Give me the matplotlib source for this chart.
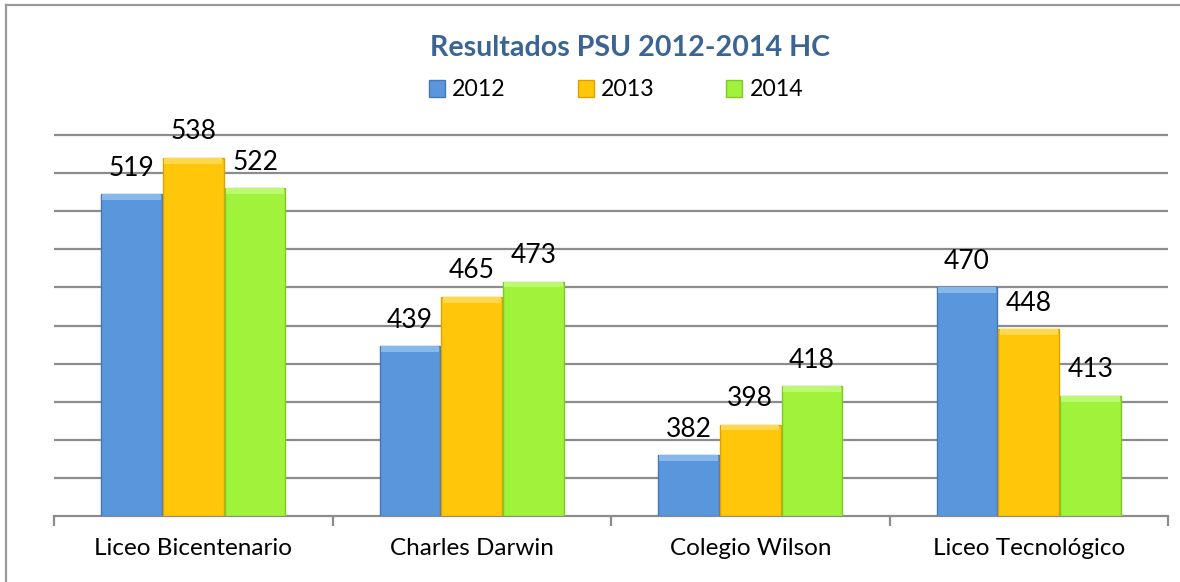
import matplotlib
matplotlib.use("Agg")
import matplotlib.pyplot as plt
from matplotlib.patches import Patch
from matplotlib.lines import Line2D
import numpy as np

categories = ["Liceo Bicentenario", "Charles Darwin", "Colegio Wilson", "Liceo Tecnológico"]
years = ["2012", "2013", "2014"]
v2012 = [519, 439, 382, 470]
v2013 = [538, 465, 398, 448]
v2014 = [522, 473, 418, 413]
series = [v2012, v2013, v2014]

face = ["#5A96DC", "#FFC60A", "#A0F23A"]
edge = ["#4677B5", "#D9A300", "#7FC72A"]
light = ["#86B8EC", "#FFD850", "#BCF870"]

plt.rcParams['font.family'] = ['Lato', 'DejaVu Sans']

fig = plt.figure(figsize=(11.8, 5.82), dpi=100)
ax_bottom_px = 516
ymin, ymax = 350, 552
px_per_unit = 381 / 200
top_px = ax_bottom_px - (ymax - ymin) * px_per_unit
ax = fig.add_axes([54 / 1180, (582 - ax_bottom_px) / 582,
                   (1168 - 54) / 1180, (ax_bottom_px - top_px) / 582])

x = np.arange(len(categories))
width = 0.218
offsets = [-0.222, 0.0, 0.222]
strip = 3.0
for i, vals in enumerate(series):
    xs = x + offsets[i]
    vals = np.array(vals)
    ax.bar(xs, vals - ymin, bottom=ymin, width=width, color=face[i],
           edgecolor=edge[i], linewidth=1.0, zorder=3)
    ax.bar(xs, np.full(len(vals), strip), bottom=vals - strip, width=width * 0.96,
           color=light[i], linewidth=0, zorder=4)
    for xi, v in zip(xs, vals):
        ax.annotate(str(v), (xi, v), xytext=(0, 26), textcoords="offset pixels",
                    ha="center", va="center", fontsize=19, color="black",
                    annotation_clip=False, zorder=5)

ax.set_xlim(-0.5, len(categories) - 0.5)
ax.set_ylim(ymin, ymax)
ax.set_yticks(np.arange(370, 551, 20))
ax.yaxis.grid(True, color="#8C8C8C", linewidth=1.6, zorder=0)
ax.tick_params(axis="y", left=False, labelleft=False)
ax.set_xticks(np.arange(-0.5, len(categories), 1.0))
ax.set_xticklabels([])
ax.set_xticks(x, minor=True)
ax.set_xticklabels(categories, minor=True, fontsize=17.5)
ax.tick_params(axis="x", which="major", length=7, width=1.6, color="#8C8C8C", direction="out")
ax.tick_params(axis="x", which="minor", length=0, pad=16)
for s in ["top", "right", "left"]:
    ax.spines[s].set_visible(False)
ax.spines["bottom"].set_color("#8C8C8C")
ax.spines["bottom"].set_linewidth(1.6)
ax.set_axisbelow(True)

fig.text(630 / 1180, 1 - 48 / 582, "Resultados PSU 2012-2014 HC", ha="center", va="center",
         fontsize=20.6, fontweight="bold", color="#3A6494")

handles = [Patch(facecolor=face[i], edgecolor=edge[i], linewidth=1.0) for i in range(3)]
fig.legend(handles, years, loc="center", bbox_to_anchor=(616 / 1180, 1 - 90 / 582),
           ncol=3, frameon=False, fontsize=16.7, handlelength=0.7, handleheight=0.7,
           handletextpad=0.3, columnspacing=3.1)

fig.add_artist(Line2D([6 / 1180, 1.0], [1 - 5 / 582, 1 - 5 / 582], color="#9A9A9A", linewidth=1.6))
fig.add_artist(Line2D([6 / 1180, 6 / 1180], [0, 1 - 5 / 582], color="#9A9A9A", linewidth=1.6))

fig.savefig("out.png", dpi=100)
